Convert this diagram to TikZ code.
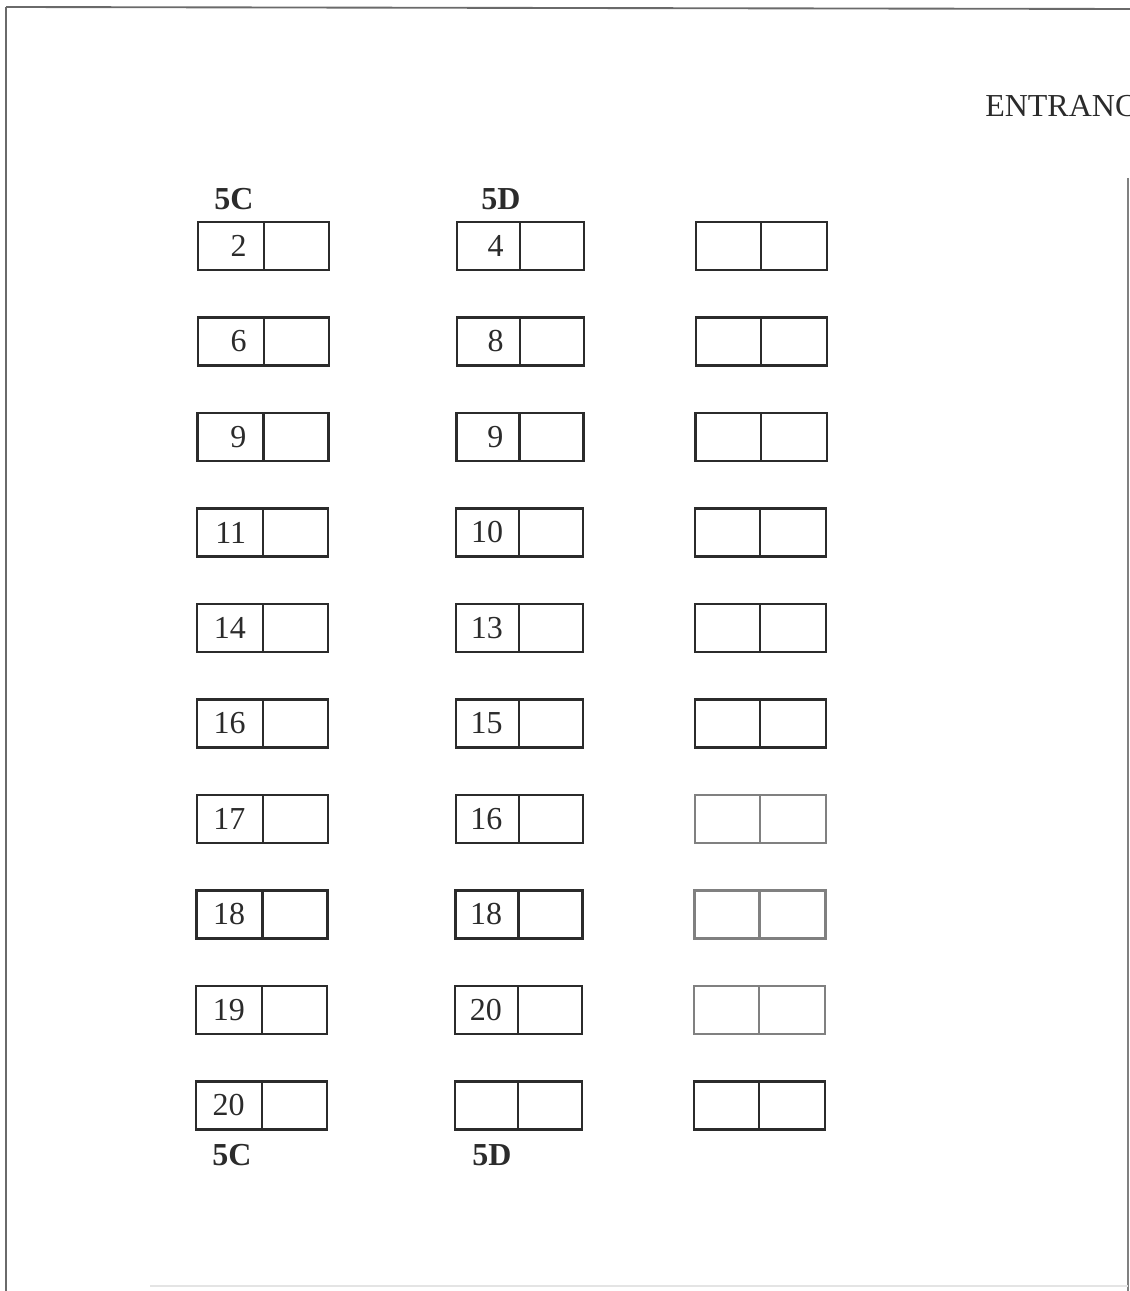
\documentclass[tikz,border=0pt]{standalone}
\usepackage{fontspec}
\setmainfont{Liberation Serif}
\definecolor{ink}{HTML}{2B2B2B}
\definecolor{faint}{HTML}{808080}
\definecolor{framec}{HTML}{6A6A6A}
\definecolor{veryfaint}{HTML}{E4E4E4}
\tikzset{
  cellbox/.style={draw=#1, line width=1.6pt, rectangle, inner sep=0pt, minimum height=36pt},
  numtxt/.style={inner sep=0pt, anchor=east, text=ink, font=\fontsize{24}{24}\selectfont},
  seclabel/.style={inner sep=0pt, anchor=base west, text=ink, font=\bfseries\fontsize{24}{24}\selectfont},
  frameline/.style={draw=framec, line width=1.4pt}
}
\begin{document}
\begin{tikzpicture}[x=0.75pt,y=-0.75pt]
\useasboundingbox (0,0) rectangle (1130,1291);
\clip (0,0) rectangle (1130,1291);
% frame
\coordinate (tl) at (6,7);
\coordinate (tr) at (1130,9);
\coordinate (bl) at (6,1291);
\coordinate (rt) at (1128,178);
\coordinate (rb) at (1128,1291);
\coordinate (bbl) at (150,1286);
\coordinate (bbr) at (1128,1286);
\draw[frameline] (tl) -- (tr);
\draw[frameline] (tl) -- (bl);
\draw[draw=faint, line width=1.2pt] (rt) -- (rb);
\draw[draw=veryfaint, line width=1pt] (bbl) -- (bbr);
% entrance label
\node[inner sep=0pt, anchor=base west, text=ink, font=\fontsize{24}{24}\selectfont] (ent) at (985,117) {ENTRANC};
% seat boxes
\foreach \i in {0,...,9} {
  \pgfmathsetmacro\yc{246+95.5*\i}
  \pgfmathsetmacro\dx{-2*\i/9}
  \ifnum\i>5 \ifnum\i<9 \def\cc{faint}\else\def\cc{ink}\fi\else\def\cc{ink}\fi
  \node[cellbox=ink, minimum width=49.5pt] (aL\i) at ({231+\dx},\yc) {};
  \node[cellbox=ink, minimum width=48.75pt] (aR\i) at ({296.5+\dx},\yc) {};
  \node[cellbox=ink, minimum width=47.25pt] (bL\i) at ({488.5+\dx},\yc) {};
  \node[cellbox=ink, minimum width=48pt] (bR\i) at ({552+\dx},\yc) {};
  \node[cellbox=\cc, minimum width=48.75pt] (cL\i) at ({728.5+\dx},\yc) {};
  \node[cellbox=\cc, minimum width=49.5pt] (cR\i) at ({794+\dx},\yc) {};
}
% numbers
\foreach \n [count=\i from 0] in {2,6,9,11,14,16,17,18,19,20} {
  \node[numtxt] (na\i) at ({247-2*\i/9},{246+95.5*\i}) {\n};
}
\foreach \n [count=\i from 0] in {4,8,9,10,13,15,16,18,20} {
  \node[numtxt] (nb\i) at ({504-2*\i/9},{246+95.5*\i}) {\n};
}
% section labels
\node[seclabel] (c5top) at (214,210) {5C};
\node[seclabel] (d5top) at (481,210) {5D};
\node[seclabel] (c5bot) at (212,1165) {5C};
\node[seclabel] (d5bot) at (472,1165) {5D};
\end{tikzpicture}
\end{document}
